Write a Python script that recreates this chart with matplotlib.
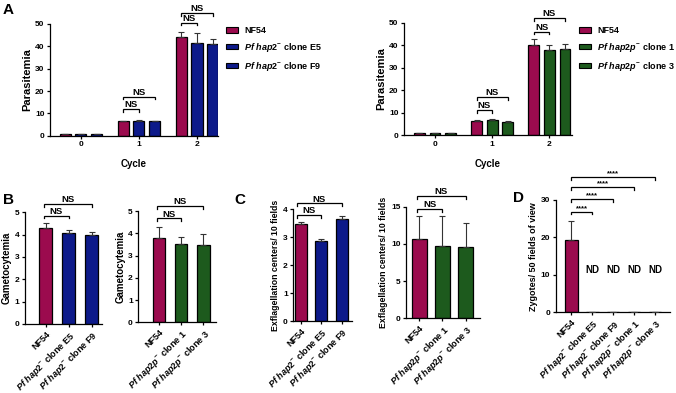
import matplotlib
matplotlib.use('Agg')
import matplotlib.pyplot as plt
import numpy as np

plt.rcParams['font.family'] = ['Liberation Sans', 'DejaVu Sans']
plt.rcParams['font.weight'] = 'bold'
plt.rcParams['axes.labelweight'] = 'bold'
plt.rcParams['mathtext.fontset'] = 'custom'
plt.rcParams['mathtext.rm'] = 'Liberation Sans:bold'
plt.rcParams['mathtext.it'] = 'Liberation Sans:italic:bold'
plt.rcParams['mathtext.bf'] = 'Liberation Sans:bold'
plt.rcParams['axes.linewidth'] = 0.9
plt.rcParams['xtick.major.width'] = 0.9
plt.rcParams['ytick.major.width'] = 0.9
plt.rcParams['xtick.major.size'] = 2.5
plt.rcParams['ytick.major.size'] = 2.5

# colours
RED = '#9b0b4e'
BLUE = '#0d1a8a'
GREEN = '#1d5a1d'

# labels
hap2_e5 = r'$\mathit{Pf\ hap2}^{-}$ clone E5'
hap2_f9 = r'$\mathit{Pf\ hap2}^{-}$ clone F9'
hap2p_1 = r'$\mathit{Pf\ hap2p}^{-}$ clone 1'
hap2p_3 = r'$\mathit{Pf\ hap2p}^{-}$ clone 3'

# ---- data: panel A (parasitemia per cycle)
cycles = ['0', '1', '2']
a1_nf54 = [0.8, 6.5, 44.2]
a1_nf54_err = [0.05, 0.2, 2.2]
a1_e5 = [0.8, 6.7, 41.3]
a1_e5_err = [0.05, 0.3, 4.8]
a1_f9 = [0.8, 6.5, 41.2]
a1_f9_err = [0.05, 0.2, 2.3]

a2_nf54 = [0.8, 6.2, 40.1]
a2_nf54_err = [0.05, 0.5, 2.5]
a2_c1 = [0.8, 6.5, 37.9]
a2_c1_err = [0.05, 0.5, 2.0]
a2_c3 = [0.8, 6.0, 38.4]
a2_c3_err = [0.05, 0.2, 2.0]

# ---- panel B (gametocytemia)
b1_labels = ['NF54', hap2_e5, hap2_f9]
b1_vals = [4.31, 4.09, 3.97]
b1_err = [0.23, 0.11, 0.16]
b2_labels = ['NF54', hap2p_1, hap2p_3]
b2_vals = [3.77, 3.50, 3.47]
b2_err = [0.53, 0.35, 0.50]

# ---- panel C (exflagellation centers)
c1_vals = [3.45, 2.86, 3.65]
c1_err = [0.07, 0.06, 0.09]
c2_vals = [10.6, 9.75, 9.6]
c2_err = [3.15, 4.0, 3.15]

# ---- panel D (zygotes)
d_labels = ['NF54', hap2_e5, hap2_f9, hap2p_1, hap2p_3]
d_vals = [19.4, 0, 0, 0, 0]
d_err = [4.9, 0, 0, 0, 0]

W, H = 676, 393
fig = plt.figure(figsize=(W / 100, H / 100), dpi=100)


def px_axes(x0, x1, ytop, ybot):
    return fig.add_axes([x0 / W, 1 - ybot / H, (x1 - x0) / W, (ybot - ytop) / H])


def style(ax):
    ax.spines['top'].set_visible(False)
    ax.spines['right'].set_visible(False)
    ax.tick_params(labelsize=6, pad=1.5)


def bold_ticks(ax):
    for t in ax.get_xticklabels() + ax.get_yticklabels():
        t.set_fontweight('bold')


def bars(ax, x, vals, errs, colors, width):
    ax.bar(x, vals, width, color=colors, edgecolor='black', linewidth=0.9, zorder=2)
    ax.errorbar(x, vals, yerr=[np.zeros(len(vals)), errs], fmt='none',
                ecolor='#333333', elinewidth=0.8, capsize=2, capthick=0.8, zorder=3)


def bracket(ax, x0, x1, y, text, tick, fs=6.8):
    ax.plot([x0, x0, x1, x1], [y - tick, y, y, y - tick], color='black', lw=0.9,
            clip_on=False, solid_joinstyle='miter')
    ax.annotate(text, ((x0 + x1) / 2, y), xytext=(0, 1.3), textcoords='offset points',
                ha='center', va='baseline', fontsize=fs, fontweight='bold',
                annotation_clip=False)


# ---------------- Panel A left
ax = px_axes(50, 218, 24, 135.7)
style(ax)
off, bw = 0.272, 0.19
x = np.arange(3)
bars(ax, x - off, a1_nf54, a1_nf54_err, RED, bw)
bars(ax, x, a1_e5, a1_e5_err, BLUE, bw)
bars(ax, x + off, a1_f9, a1_f9_err, BLUE, bw)
ax.set_xlim(-0.534, 2.362)
ax.set_ylim(0, 50)
ax.set_yticks([0, 10, 20, 30, 40, 50])
ax.set_xticks(x, cycles)
bold_ticks(ax)
ax.set_ylabel('Parasitemia', fontsize=8, labelpad=2)
ax.set_xlabel('Cycle', fontsize=7, labelpad=8)
for g, (yi, yo) in zip([1, 2], [(11.9, 17.5), (50.6, 54.8)]):
    bracket(ax, g - off, g, yi, 'NS', 1.2)
    bracket(ax, g - off, g + off, yo, 'NS', 1.2)
hA1 = [plt.Rectangle((0, 0), 1, 1, fc=c, ec='black', lw=0.8) for c in (RED, BLUE, BLUE)]
fig.legend(hA1, ['NF54', hap2_e5, hap2_f9], loc='upper left',
           bbox_to_anchor=(226 / W, 1 - 26 / H), frameon=False,
           prop={'size': 6.5, 'weight': 'bold'},
           handlelength=1.3, handleheight=0.55, handletextpad=0.7,
           labelspacing=0.65, borderpad=0, borderaxespad=0)

# ---------------- Panel A right
ax = px_axes(404, 571.7, 22.7, 135)
style(ax)
bars(ax, x - off, a2_nf54, a2_nf54_err, RED, bw)
bars(ax, x, a2_c1, a2_c1_err, GREEN, bw)
bars(ax, x + off, a2_c3, a2_c3_err, GREEN, bw)
ax.set_xlim(-0.542, 2.39)
ax.set_ylim(0, 50)
ax.set_yticks([0, 10, 20, 30, 40, 50])
ax.set_xticks(x, cycles)
bold_ticks(ax)
ax.set_ylabel('Parasitemia', fontsize=8, labelpad=2)
ax.set_xlabel('Cycle', fontsize=7, labelpad=8)
for g, (yi, yo) in zip([1, 2], [(11.1, 17.0), (46.0, 52.0)]):
    bracket(ax, g - off, g, yi, 'NS', 1.2)
    bracket(ax, g - off, g + off, yo, 'NS', 1.2)
hA2 = [plt.Rectangle((0, 0), 1, 1, fc=c, ec='black', lw=0.8) for c in (RED, GREEN, GREEN)]
fig.legend(hA2, ['NF54', hap2p_1, hap2p_3], loc='upper left',
           bbox_to_anchor=(579 / W, 1 - 26 / H), frameon=False,
           prop={'size': 6.5, 'weight': 'bold'},
           handlelength=1.3, handleheight=0.55, handletextpad=0.7,
           labelspacing=0.65, borderpad=0, borderaxespad=0)


def cat_panel(rect, labels, vals, errs, colors, xlim, ylim, yticks, ylabel,
              width, ylfs=6.5):
    ax = px_axes(*rect)
    style(ax)
    xx = np.arange(len(vals))
    bars(ax, xx, vals, errs, colors, width)
    ax.set_xlim(*xlim)
    ax.set_ylim(*ylim)
    ax.set_yticks(yticks)
    ax.set_xticks(xx)
    ax.set_xticklabels(labels, rotation=45, ha='right', rotation_mode='anchor',
                       fontsize=6.5)
    bold_ticks(ax)
    ax.set_ylabel(ylabel, fontsize=ylfs, labelpad=2)
    return ax


# ---------------- Panel B
ax = cat_panel((25, 102, 212.3, 324), b1_labels, b1_vals, b1_err, [RED, BLUE, BLUE],
               (-0.92, 2.46), (0, 5), [0, 1, 2, 3, 4, 5], 'Gametocytemia', 0.57, 7)
bracket(ax, -0.08, 1, 4.85, 'NS', 0.12)
bracket(ax, -0.08, 2, 5.36, 'NS', 0.12)

ax = cat_panel((138.3, 216, 211, 322.3), b2_labels, b2_vals, b2_err, [RED, GREEN, GREEN],
               (-0.93, 2.57), (0, 5), [0, 1, 2, 3, 4, 5], 'Gametocytemia', 0.57, 7)
bracket(ax, -0.1, 1, 4.67, 'NS', 0.12)
bracket(ax, -0.1, 2, 5.22, 'NS', 0.12)

# ---------------- Panel C
ax = cat_panel((293.3, 352, 209, 321), b1_labels, c1_vals, c1_err, [RED, BLUE, BLUE],
               (-0.37, 2.5), (0, 4), [0, 1, 2, 3, 4],
               'Exflagellation centers/ 10 fields', 0.57, 6.3)
bracket(ax, -0.2, 1, 3.79, 'NS', 0.1)
bracket(ax, -0.2, 2, 4.2, 'NS', 0.1)

ax = cat_panel((406, 480, 206.7, 318.3), b2_labels, c2_vals, c2_err, [RED, GREEN, GREEN],
               (-0.57, 2.62), (0, 15), [0, 5, 10, 15],
               'Exflagellation centers/ 10 fields', 0.65, 6.3)
bracket(ax, -0.1, 1, 14.7, 'NS', 0.37)
bracket(ax, -0.1, 2, 16.4, 'NS', 0.37)

# ---------------- Panel D
ax = cat_panel((555.7, 670, 200, 312.3), d_labels, d_vals, d_err, [RED] * 5,
               (-0.75, 4.72), (0, 30), [0, 10, 20, 30],
               'Zygotes/ 50 fields of view', 0.6, 6.5)
for i, yb in zip(range(1, 5), [26.9, 30.3, 33.4, 36.1]):
    bracket(ax, 0, i, yb, '****', 0.75, fs=5.5)
for i in range(1, 5):
    ax.text(i, 11.3, 'ND', ha='center', va='center', fontsize=7, fontweight='bold')

# panel letters
for letter, px, py in [('A', 8, 10), ('B', 8, 200), ('C', 240, 200), ('D', 518, 198)]:
    fig.text(px / W, 1 - py / H, letter, ha='center', va='center',
             fontsize=11, fontweight='bold')

fig.savefig('out.png', dpi=100)
